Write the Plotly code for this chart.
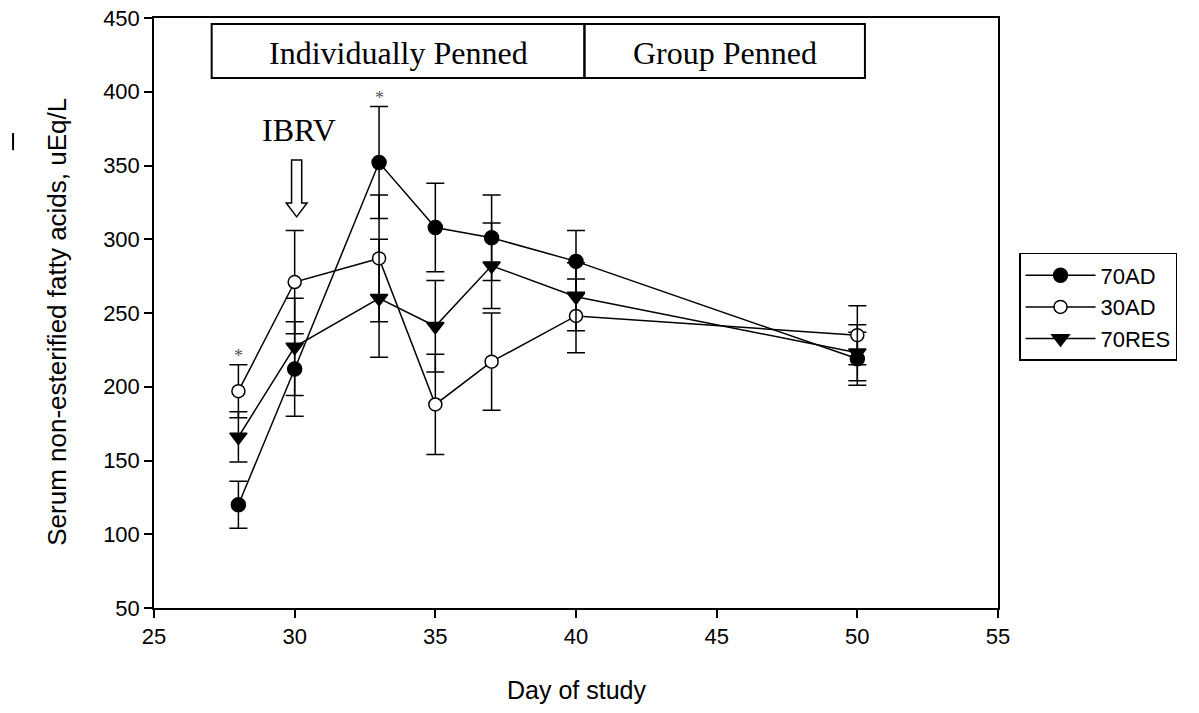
import plotly.graph_objects as go

days = [28, 30, 33, 35, 37, 40, 50]
ad70 = [120, 212, 352, 308, 301, 285, 219]
ad70_se = [16, 32, 38, 30, 29, 21, 18]
ad30 = [197, 271, 287, 188, 217, 248, 235]
ad30_se = [18, 35, 43, 34, 33, 25, 20]
res70 = [166, 227, 260, 241, 282, 261, 223]
res70_se = [17, 33, 40, 31, 29, 23, 19]

series_names = ["70AD", "30AD", "70RES"]
x_ticks = [25, 30, 35, 40, 45, 50, 55]
y_ticks = [50, 100, 150, 200, 250, 300, 350, 400, 450]

SANS = "Liberation Sans, Arial, sans-serif"
SERIF = "Liberation Serif, Times New Roman, serif"

fig = go.Figure()

def add_series(name, y, err, symbol, fill, size):
    fig.add_trace(go.Scatter(
        x=days, y=y, name=name, mode="lines+markers",
        line=dict(color="black", width=1.5),
        marker=dict(symbol=symbol, size=size, color=fill,
                    line=dict(color="black", width=1.5)),
        error_y=dict(type="data", array=err, visible=True,
                     color="black", thickness=1.5, width=9),
    ))

add_series(series_names[0], ad70, ad70_se, "circle", "black", 14)
add_series(series_names[1], ad30, ad30_se, "circle", "white", 13)
add_series(series_names[2], res70, res70_se, "triangle-down", "black", 15)

# significance asterisks
for i, (yv, ev) in [(0, (ad30[0], ad30_se[0])), (2, (ad70[2], ad70_se[2]))]:
    fig.add_annotation(x=days[i], y=yv + ev, text="*", showarrow=False,
                       yanchor="bottom", yshift=-3,
                       font=dict(family=SERIF, size=18, color="#555555"))

# pen boxes
box_y0, box_y1 = 409.3, 445.9
fig.add_shape(type="rect", x0=27.05, x1=40.3, y0=box_y0, y1=box_y1,
              line=dict(color="black", width=2))
fig.add_shape(type="rect", x0=40.3, x1=50.27, y0=box_y0, y1=box_y1,
              line=dict(color="black", width=2))
fig.add_annotation(x=(27.05 + 40.3) / 2, y=(box_y0 + box_y1) / 2, text="Individually Penned",
                   showarrow=False, yshift=-2, font=dict(family=SERIF, size=32, color="black"))
fig.add_annotation(x=(40.3 + 50.27) / 2, y=(box_y0 + box_y1) / 2, text="Group Penned",
                   showarrow=False, yshift=-2, font=dict(family=SERIF, size=32, color="black"))

# IBRV label and hollow arrow
fig.add_annotation(x=30.15, y=374, text="IBRV", showarrow=False,
                   font=dict(family=SERIF, size=32, color="black"))
ax = 30.07
fig.add_shape(type="path",
              path=(f"M {ax-0.18},353.7 L {ax+0.18},353.7 L {ax+0.18},324.6 L {ax+0.37},324.6 "
                    f"L {ax},315.2 L {ax-0.37},324.6 L {ax-0.18},324.6 Z"),
              line=dict(color="black", width=1.5), fillcolor="white")

# stray mark at left
fig.add_shape(type="line", xref="paper", yref="paper", x0=-0.167, x1=-0.167,
              y0=0.776, y1=0.805, line=dict(color="black", width=2))

# axis titles
fig.add_annotation(xref="paper", yref="paper", x=0.5, y=-0.139, text="Day of study",
                   showarrow=False, xanchor="center", yanchor="middle",
                   font=dict(family=SANS, size=25, color="black"))
fig.add_annotation(xref="paper", yref="paper", x=-0.115, y=0.485,
                   text="Serum non-esterified fatty acids, uEq/L", textangle=-90,
                   showarrow=False, xanchor="center", yanchor="middle",
                   font=dict(family=SANS, size=26, color="black"))

axis_common = dict(showline=True, linecolor="black", linewidth=1.5, mirror=True,
                   ticks="outside", ticklen=8, tickwidth=1.5, tickcolor="black",
                   showgrid=False, zeroline=False, ticklabeloverflow="allow",
                   automargin=False,
                   tickfont=dict(family=SANS, size=22, color="black"))

fig.update_xaxes(range=[25, 55], tickvals=x_ticks, **axis_common)
fig.update_yaxes(range=[50, 450], tickvals=y_ticks, **axis_common)

fig.update_layout(
    width=1199, height=713,
    margin=dict(l=154, r=201, t=18, b=105, autoexpand=False),
    paper_bgcolor="white", plot_bgcolor="white",
    showlegend=True,
    legend=dict(x=1.0249, y=0.6017, xanchor="left", yanchor="top",
                bordercolor="black", borderwidth=1.5, bgcolor="white",
                font=dict(family=SANS, size=22, color="black"),
                itemwidth=70),
)

fig.write_html("out.html", config={"displayModeBar": False},
               post_script="document.body.style.margin='0';")
